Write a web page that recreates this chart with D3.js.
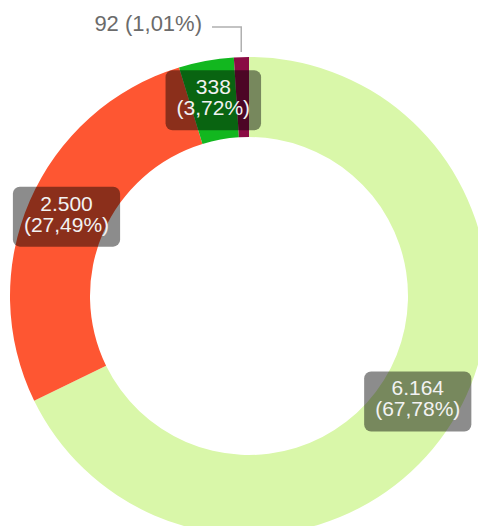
<!DOCTYPE html>
<html>
<head>
<meta charset="utf-8">
<script src="https://cdn.jsdelivr.net/npm/d3@7"></script>
<style>
  html, body { margin: 0; padding: 0; background: #fff; overflow: hidden; }
  text { font-family: "Liberation Sans", Arial, sans-serif; }
</style>
</head>
<body>
<div id="chart"></div>
<script>
// data
const categories = ["A", "B", "C", "D"];
const values = [6164, 2500, 338, 92];
const colors = ["#d9f7a9", "#fe5632", "#12b71f", "#8a0c44"];

const width = 478, height = 526;
const cx = 249, cy = 296;
const outerR = 239, innerR = 159;

const loc = d3.formatLocale({ decimal: ",", thousands: ".", grouping: [3], currency: ["", ""] });
const fmtNum = loc.format(",d");
const fmtPct = loc.format(".2f");

const total = d3.sum(values);
const data = categories.map((c, i) => ({ cat: c, value: values[i], color: colors[i] }));

const svg = d3.select("#chart").append("svg")
    .attr("width", width)
    .attr("height", height);

const g = svg.append("g").attr("transform", `translate(${cx},${cy})`);

const pie = d3.pie().sort(null).value(d => d.value);
const arc = d3.arc().innerRadius(innerR).outerRadius(outerR);
const arcs = pie(data);

// slices
g.selectAll("path.slice")
    .data(arcs)
    .enter()
    .append("path")
    .attr("class", "slice")
    .attr("d", arc)
    .attr("fill", d => d.data.color);

// inner labels (big slices)
const inside = arcs.filter(d => d.data.value / total > 0.02);
const lbl = g.selectAll("g.lbl")
    .data(inside)
    .enter()
    .append("g")
    .attr("class", "lbl")
    .attr("transform", d => `translate(${arc.centroid(d)})`);

lbl.each(function (d) {
    const el = d3.select(this);
    const line1 = fmtNum(d.data.value);
    const line2 = "(" + fmtPct(d.data.value / total * 100) + "%)";
    const txt = el.append("text")
        .attr("text-anchor", "middle")
        .attr("font-size", "21px")
        .attr("fill", "#f2f2f2");
    txt.append("tspan").attr("x", 0).attr("y", -6).text(line1);
    txt.append("tspan").attr("x", 0).attr("y", 15).text(line2);
    const bb = txt.node().getBBox();
    el.insert("rect", "text")
        .attr("x", bb.x - 11)
        .attr("y", -30)
        .attr("width", bb.width + 22)
        .attr("height", 60)
        .attr("rx", 7)
        .attr("fill", "rgba(0,0,0,0.45)");
});

// outer label (small slice) with leader line
const outside = arcs.filter(d => d.data.value / total <= 0.02);
outside.forEach(d => {
    const mid = (d.startAngle + d.endAngle) / 2;
    const px = Math.sin(mid) * (outerR + 5);
    const py = -Math.cos(mid) * (outerR + 5);
    const ly = 27 - cy;
    const lx = 212 - cx;
    g.append("polyline")
        .attr("points", `${px},${py} ${px},${ly} ${lx},${ly}`)
        .attr("fill", "none")
        .attr("stroke", "#b0b0b0")
        .attr("stroke-width", 1.5);
    g.append("text")
        .attr("x", lx - 10)
        .attr("y", 31 - cy)
        .attr("text-anchor", "end")
        .attr("font-size", "22px")
        .attr("fill", "#6b6b6b")
        .text(fmtNum(d.data.value) + " (" + fmtPct(d.data.value / total * 100) + "%)");
});
</script>
</body>
</html>
